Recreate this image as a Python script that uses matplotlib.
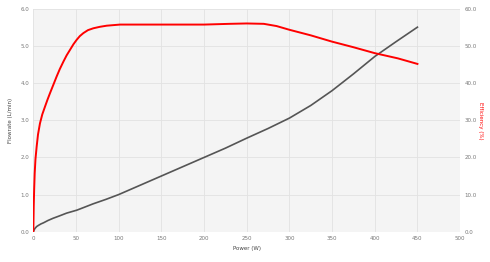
import matplotlib
matplotlib.use("Agg")
import matplotlib.pyplot as plt

# Flowrate (L/min) vs power (W)
flow_power = [0, 1, 2, 4, 6, 9, 12, 17, 23, 30, 39, 51, 60, 70, 85, 100, 150, 200, 225, 250,
              275, 300, 325, 350, 375, 400, 425, 450]
flow_vals = [0, 0.05, 0.09, 0.14, 0.17, 0.21, 0.24, 0.30, 0.36, 0.42, 0.50, 0.58, 0.66, 0.75,
             0.87, 1.0, 1.5, 2.0, 2.25, 2.52, 2.78, 3.06, 3.4, 3.8, 4.25, 4.72, 5.12, 5.51]

# Efficiency (%) vs power (W)
eff_power = [0, 0.5, 1, 1.6, 2.5, 3.9, 5.5, 7.8, 10.5, 13.7, 16.5, 19.5, 23.5, 27.3, 31, 35.2,
             39, 43, 47, 50.8, 54.5, 58.6, 64, 70.3, 78, 86, 101.6, 150, 200, 230, 250, 270,
             285, 300, 325, 350, 375, 400, 427, 450]
eff_vals = [0, 7, 11.5, 15.7, 19.5, 22.9, 26.2, 29.2, 31.6, 33.7, 35.5, 37.3, 39.6, 41.8, 43.8,
            45.8, 47.5, 49.0, 50.5, 51.7, 52.7, 53.5, 54.3, 54.8, 55.2, 55.5, 55.8, 55.8, 55.8,
            56.0, 56.1, 56.0, 55.4, 54.4, 52.9, 51.2, 49.7, 48.1, 46.7, 45.2]

x_ticks = [0, 50, 100, 150, 200, 250, 300, 350, 400, 450, 500]
y_ticks = [0, 1, 2, 3, 4, 5, 6]
y2_ticks = [0, 10, 20, 30, 40, 50, 60]

fig = plt.figure(figsize=(4.9, 2.62), dpi=100)
ax = fig.add_axes([0.068, 0.1157, 0.871, 0.85])
ax.set_facecolor("#f4f4f4")
ax2 = ax.twinx()

ax.plot(flow_power, flow_vals, color="#555555", lw=1.2, zorder=3, solid_joinstyle="round")
ax2.plot(eff_power, eff_vals, color="#ff0000", lw=1.4, zorder=3, solid_joinstyle="round")

ax.set_xlim(0, 500)
ax.set_ylim(0, 6)
ax2.set_ylim(0, 60)
ax.set_xticks(x_ticks)
ax.set_xticklabels([str(t) for t in x_ticks])
ax.set_yticks(y_ticks)
ax.set_yticklabels([f"{t:.1f}" for t in y_ticks])
ax2.set_yticks(y2_ticks)
ax2.set_yticklabels([f"{t:.1f}" for t in y2_ticks])

ax.grid(True, color="#e2e2e2", lw=0.6)
ax.set_axisbelow(True)
for a in (ax, ax2):
    for s in a.spines.values():
        s.set_visible(False)
    a.tick_params(length=0, labelsize=4, colors="#777777", pad=3)

ax.set_xlabel("Power (W)", fontsize=4, color="#444444", labelpad=4)
ax.set_ylabel("Flowrate (L/min)", fontsize=4, color="#444444", labelpad=5)
ax2.set_ylabel("Efficiency (%)", fontsize=4, color="#ff0000", rotation=270, labelpad=5)

fig.savefig("out.png", dpi=100)
